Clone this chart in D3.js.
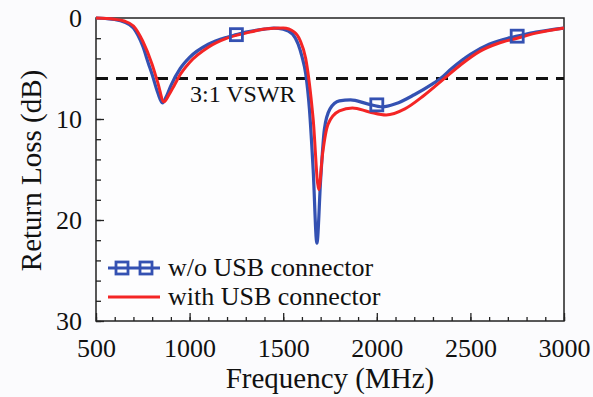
<!DOCTYPE html>
<html>
<head>
<meta charset="utf-8">
<script src="https://cdn.jsdelivr.net/npm/d3@7"></script>
<style>
  body { margin: 0; background: #fbfbfd; }
  svg { display: block; }
</style>
</head>
<body>
<svg id="chart" width="593" height="397" font-family="Liberation Serif" style="font-family: 'Liberation Serif', serif"></svg>
<script>
// frequency (MHz) / return loss (dB)
var freqBlue = [500, 550, 600, 650, 700, 750, 780, 800, 830, 855, 875, 900, 950, 1000, 1100, 1200, 1250, 1300, 1400, 1450, 1500, 1550, 1580, 1600, 1620, 1640, 1660, 1680, 1700, 1720, 1750, 1800, 1860, 1950, 2030, 2100, 2200, 2300, 2340, 2400, 2500, 2600, 2700, 2750, 2850, 3000];
var lossBlue = [0, 0.05, 0.15, 0.4, 1.0, 2.8, 4.5, 5.6, 7.4, 8.4, 7.8, 6.7, 5.0, 3.9, 2.6, 1.9, 1.65, 1.4, 1.1, 1.0, 1.1, 1.6, 2.6, 3.8, 5.5, 9.0, 15.0, 22.3, 16.0, 11.0, 9.0, 8.2, 8.1, 8.5, 8.8, 8.5, 7.6, 6.5, 6.0, 5.0, 3.6, 2.6, 2.0, 1.8, 1.4, 1.0];

var freqRed = [500, 600, 650, 700, 750, 800, 830, 863, 890, 920, 950, 1000, 1100, 1200, 1300, 1400, 1500, 1560, 1590, 1620, 1640, 1660, 1690, 1710, 1740, 1800, 1870, 1960, 2050, 2150, 2250, 2360, 2450, 2550, 2650, 2750, 2850, 3000];
var lossRed = [0, 0.12, 0.3, 0.8, 2.3, 4.6, 6.4, 8.3, 7.6, 6.6, 5.6, 4.4, 2.9, 2.0, 1.5, 1.1, 1.0, 1.4, 2.2, 4.0, 6.5, 10.0, 17.0, 13.5, 10.5, 9.2, 8.9, 9.3, 9.6, 9.0, 7.7, 6.0, 4.6, 3.3, 2.5, 2.0, 1.5, 1.0];

var markerFreq = [1250, 2000, 2750];
var markerLoss = [1.65, 8.6, 1.8];

var xTicks = [500, 1000, 1500, 2000, 2500, 3000];
var yTicks = [0, 10, 20, 30];
var vswrLevel = 6;

var seriesNames = ["w/o USB connector", "with USB connector"];
var blue = "#3451b2", red = "#f42525";
var fontName = "Liberation Serif";

var width = 593, height = 397;
var margin = {top: 18, right: 29, bottom: 76, left: 96};
var svg = d3.select("#chart");

var x = d3.scaleLinear().domain([500, 3000]).range([margin.left, width - margin.right]);
var y = d3.scaleLinear().domain([0, 30]).range([margin.top, height - margin.bottom]);

function pairs(fs, ls) {
	return fs.map(function(f, i) { return [f, ls[i]]; });
}

var line = d3.line()
	.x(function(d) { return x(d[0]); })
	.y(function(d) { return y(d[1]); })
	.curve(d3.curveMonotoneX);

// frame
svg.append("rect")
	.attr("x", margin.left).attr("y", margin.top)
	.attr("width", width - margin.left - margin.right)
	.attr("height", height - margin.top - margin.bottom)
	.attr("fill", "#fdfdfe").attr("stroke", "#222").attr("stroke-width", 1.5);

// x axis, ticks inward (minor every 100, major every 500)
var xAxis = svg.append("g").attr("transform", "translate(0," + y(30) + ")")
	.call(d3.axisBottom(x).tickValues(d3.range(500, 3001, 100)).tickSize(-4).tickFormat(""));
xAxis.select(".domain").remove();
xAxis.selectAll("line").attr("stroke", "#222").attr("stroke-width", 1.3);
var xMajor = svg.append("g").attr("transform", "translate(0," + y(30) + ")")
	.call(d3.axisBottom(x).tickValues(xTicks).tickSize(-8).tickPadding(18).tickFormat(d3.format("d")));
xMajor.attr("font-family", null).attr("font-size", 26);
xMajor.select(".domain").remove();
xMajor.selectAll("line").attr("stroke", "#222").attr("stroke-width", 1.3);
xMajor.selectAll("text").attr("fill", "#111").attr("font-family", fontName);

// y axis, ticks inward (minor every 2 dB)
var yAxis = svg.append("g").attr("transform", "translate(" + x(500) + ",0)")
	.call(d3.axisLeft(y).tickValues(d3.range(0, 31, 2)).tickSize(-5).tickFormat(""));
yAxis.select(".domain").remove();
yAxis.selectAll("line").attr("stroke", "#222").attr("stroke-width", 1.3);
var yMajor = svg.append("g").attr("transform", "translate(" + x(500) + ",0)")
	.call(d3.axisLeft(y).tickValues(yTicks).tickSize(-8).tickPadding(14));
yMajor.attr("font-family", null).attr("font-size", 26);
yMajor.select(".domain").remove();
yMajor.selectAll("line").attr("stroke", "#222").attr("stroke-width", 1.3);
yMajor.selectAll("text").attr("fill", "#111").attr("font-family", fontName);

// axis titles
svg.append("text")
	.attr("x", (x(500) + x(3000)) / 2).attr("y", 388)
	.attr("text-anchor", "middle").attr("font-size", 29)
	.attr("font-family", fontName).attr("fill", "#111")
	.text("Frequency (MHz)");
svg.append("text")
	.attr("transform", "translate(41," + ((y(0) + y(30)) / 2 + 1) + ") rotate(-90)")
	.attr("text-anchor", "middle").attr("font-size", 29)
	.attr("font-family", fontName).attr("fill", "#111")
	.text("Return Loss (dB)");

// 3:1 VSWR line
svg.append("line")
	.attr("x1", x(500)).attr("x2", x(3000))
	.attr("y1", y(vswrLevel)).attr("y2", y(vswrLevel))
	.attr("stroke", "#111").attr("stroke-width", 3)
	.attr("stroke-dasharray", "12,8");
svg.append("text")
	.attr("x", 190).attr("y", y(vswrLevel) + 23)
	.attr("font-size", 24).attr("font-family", fontName).attr("fill", "#111")
	.text("3:1 VSWR");

// curves
svg.append("path")
	.datum(pairs(freqBlue, lossBlue))
	.attr("d", line)
	.attr("fill", "none").attr("stroke", blue).attr("stroke-width", 3.2);
svg.append("path")
	.datum(pairs(freqRed, lossRed))
	.attr("d", line)
	.attr("fill", "none").attr("stroke", red).attr("stroke-width", 3);

svg.selectAll(".mk")
	.data(pairs(markerFreq, markerLoss))
	.enter().append("rect")
	.attr("class", "mk")
	.attr("x", function(d) { return x(d[0]) - 6; })
	.attr("y", function(d) { return y(d[1]) - 6; })
	.attr("width", 12).attr("height", 12)
	.attr("fill", "none").attr("stroke", blue).attr("stroke-width", 2.8);

// legend
var lg = svg.append("g");
lg.append("line").attr("x1", 108).attr("x2", 160).attr("y1", 268).attr("y2", 268)
	.attr("stroke", blue).attr("stroke-width", 3);
[122, 146].forEach(function(cx) {
	lg.append("rect").attr("x", cx - 6).attr("y", 262).attr("width", 12).attr("height", 12)
		.attr("fill", "none").attr("stroke", blue).attr("stroke-width", 2.8);
});
lg.append("line").attr("x1", 108).attr("x2", 160).attr("y1", 297).attr("y2", 297)
	.attr("stroke", red).attr("stroke-width", 3);
lg.selectAll("text.lab")
	.data(seriesNames)
	.enter().append("text")
	.attr("class", "lab")
	.attr("x", 168)
	.attr("y", function(d, i) { return 276 + i * 29; })
	.attr("font-size", 26).attr("font-family", fontName).attr("fill", "#111")
	.text(function(d) { return d; });
</script>
</body>
</html>
